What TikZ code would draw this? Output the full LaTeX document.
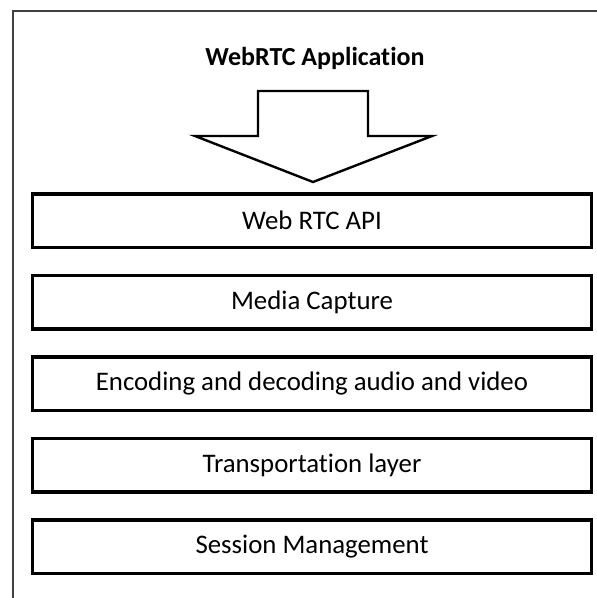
\documentclass[tikz,border=0pt]{standalone}
\usepackage{fontspec}
\setmainfont[Ligatures=NoCommon]{Carlito}
\usepackage{tikz}
\usetikzlibrary{positioning}
\definecolor{framegray}{RGB}{64,64,64}

\begin{document}
\begin{tikzpicture}[
  x=1pt, y=-1pt,
  layer/.style={draw, rectangle, minimum width=559pt, minimum height=53.5pt, align=center, line width=3.5pt, font=\fontsize{26.8}{32}\selectfont},
  node distance=24.5pt,
]
\useasboundingbox (0,0) rectangle (597,598);
% frame (top and left edges only)
\draw[framegray, line width=1.4pt] (13,598) -- (13,11) -- (597,11);
\node[font=\bfseries\fontsize{26}{31}\selectfont] (title) at (315,58) {WebRTC Application};
% hollow arrow
\draw[line width=2.4pt, line join=miter] (258,91) -- (368,91) -- (368,136) -- (432,136) -- (313,182)
  -- (195,136) -- (258,136) -- cycle;
\node[layer] (api) at (312,220.5) {Web RTC API};
\node[layer, below=of api] (capture) {Media Capture};
\node[layer, below=of capture] (codec) {Encoding and decoding audio and video};
\node[layer, below=of codec] (transport) {Transportation layer};
\node[layer, below=of transport] (session) {Session Management};
\end{tikzpicture}
\end{document}
